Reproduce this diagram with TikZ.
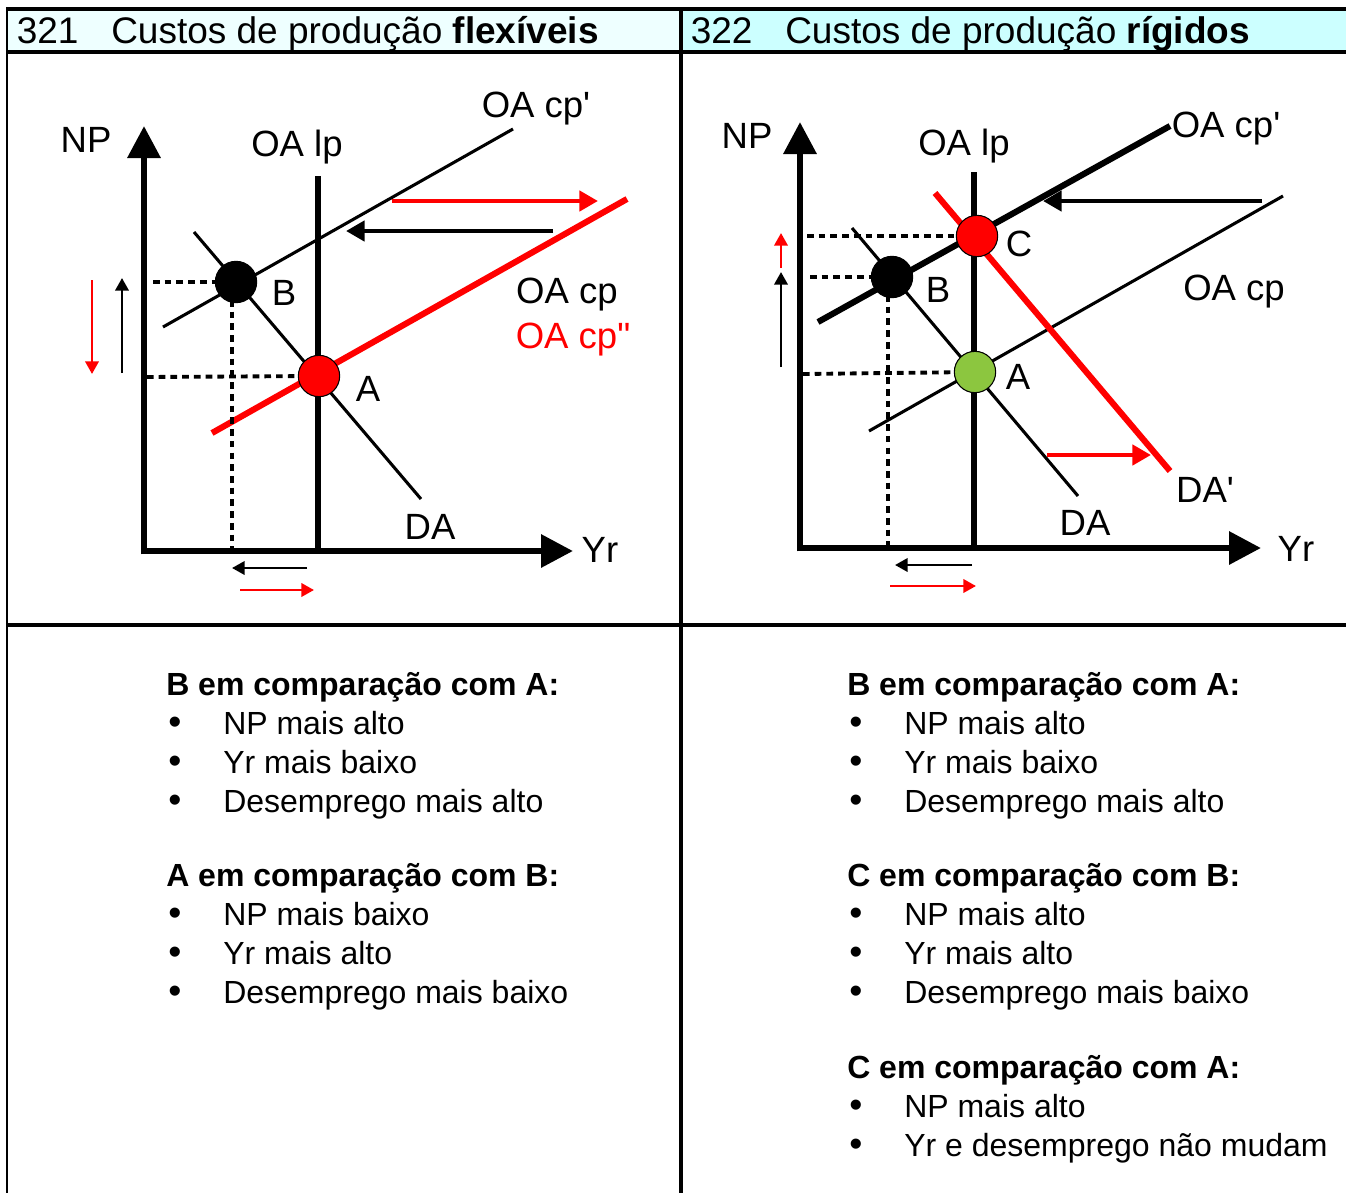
\documentclass[tikz,border=0pt]{standalone}
\usepackage{fontspec}
\setmainfont{Liberation Sans}[Ligatures=TeXOff]
\usetikzlibrary{arrows.meta}
\definecolor{hdrL}{HTML}{EEFFFF}
\definecolor{hdrR}{HTML}{CCFFFF}
\definecolor{ptgreen}{HTML}{8CC63F}
\begin{document}
\begin{tikzpicture}[x=0.75pt,y=-0.75pt,
  axisline/.style={line width=4.8pt,-{Triangle[length=24pt,width=24pt]}},
  thinline/.style={line width=2.3pt},
  thickline/.style={line width=4.6pt},
  dotline/.style={line width=2.9pt,dash pattern=on 5pt off 3.8pt},
  shiftarrow/.style={line width=3.6pt,-{Triangle[length=14pt,width=15pt]}},
  smallarrow/.style={line width=2pt,-{Triangle[length=9.5pt,width=10pt]}},
  pt/.style={circle,draw=black,line width=0.8pt,minimum size=31pt,inner sep=0pt},
  lbl/.style={font=\fontsize{27.4}{32}\selectfont,anchor=base,inner sep=0pt},
  hdr/.style={font=\fontsize{27.75}{32}\selectfont,anchor=base west,inner sep=0pt},
  body/.style={font=\fontsize{24}{28}\selectfont,anchor=base west,inner sep=0pt},
  bul/.style={font=\fontsize{28}{32}\selectfont,anchor=base,inner sep=0pt}]
\useasboundingbox (0,0) rectangle (1346,1193);
% header fills
\fill[hdrL] (7,9) rectangle (681,52);
\fill[hdrR] (681,9) rectangle (1346,52);
% table rules
\draw[line width=2.3pt] (6,9) -- (1346,9);
\draw[line width=1.8pt] (7,8) -- (7,1193);
\draw[line width=3pt] (7,52) -- (1346,52);
\draw[line width=3pt] (681,8) -- (681,1193);
\draw[line width=3pt] (7,625) -- (1346,625);
% headers
\node[hdr] (h1n) at (16.5,43) {321};
\node[hdr] (h1t) at (111,43) {Custos de produção \textbf{flexíveis}};
\node[hdr] (h2n) at (690.5,43) {322};
\node[hdr] (h2t) at (785,43) {Custos de produção \textbf{rígidos}};

% ================= LEFT CHART =================
\draw[axisline] (144,554.4) -- (144,126);
\draw[axisline] (141.6,551) -- (573,551);
\draw[thickline] (318,176) -- (318,551);
\draw[thinline] (163,327) -- (513,129);
\draw[thickline,red] (212,433) -- (627,199);
\draw[thinline] (194,232) -- (421,499);
\node[pt,fill=black] (LB) at (236,282) {};
\node[pt,fill=red] (LA) at (319,376) {};
\coordinate (LBh) at (153,282);
\coordinate (LAh) at (147,377);
\coordinate (LBv) at (232,548);
\draw[dotline] (LBh) -- (LB);
\draw[dotline] (LAh) -- (LA);
\draw[dotline] (232,300) -- (LBv);
\coordinate (Lk1) at (553,231);
\coordinate (Lk2) at (346,231);
\draw[shiftarrow] (Lk1) -- (Lk2);
\coordinate (Lr1) at (392,201);
\coordinate (Lr2) at (598,201);
\draw[shiftarrow,red] (Lr1) -- (Lr2);
\draw[smallarrow,red] (92,280) -- (92,374);
\draw[smallarrow] (122,373) -- (122,278);
\draw[smallarrow] (307,568) -- (232,568);
\draw[smallarrow,red] (240,590) -- (314,590);
\node[lbl] (LNP) at (86,152) {NP};
\node[lbl] (LOAlp) at (297,156) {OA lp};
\node[lbl] (LOAcpp) at (536,117) {OA cp'};
\node[lbl] (LOAcp) at (567,303) {OA cp};
\node[lbl,red] (LOAcppp) at (573,348) {OA cp"};
\node[lbl] (LBl) at (284,305) {B};
\node[lbl] (LAl) at (368,401) {A};
\node[lbl] (LDA) at (430,539) {DA};
\node[lbl] (LYr) at (600,562) {Yr};

% ================= RIGHT CHART =================
\draw[axisline] (800,551.4) -- (800,122);
\draw[axisline] (797.6,548) -- (1261,548);
\draw[thickline] (974,172) -- (974,548);
\draw[thickline] (818,322) -- (1170,126);
\draw[thinline] (869,431) -- (1283,196);
\draw[thinline] (852,228) -- (1078,496);
\draw[thickline,red] (935,193) -- (1170,471);
\node[pt,fill=red] (RC) at (977,236) {};
\node[pt,fill=black] (RB) at (892,277) {};
\node[pt,fill=ptgreen] (RA) at (975,372) {};
\coordinate (RCh) at (807,236);
\coordinate (RBh) at (810,277);
\coordinate (RAh) at (803,374);
\coordinate (RBv) at (888,545);
\draw[dotline] (RCh) -- (RC);
\draw[dotline] (RBh) -- (RB);
\draw[dotline] (RAh) -- (RA);
\draw[dotline] (888,295) -- (RBv);
\coordinate (Rk1) at (1262,201);
\coordinate (Rk2) at (1043,201);
\draw[shiftarrow] (Rk1) -- (Rk2);
\coordinate (Rr1) at (1047,455);
\coordinate (Rr2) at (1151,455);
\draw[shiftarrow,red] (Rr1) -- (Rr2);
\draw[smallarrow,red] (781,268) -- (781,233);
\draw[smallarrow] (781,367) -- (781,272);
\draw[smallarrow] (972,565) -- (895,565);
\draw[smallarrow,red] (890,586) -- (976,586);
\node[lbl] (RNP) at (747,148) {NP};
\node[lbl] (ROAlp) at (964,155) {OA lp};
\node[lbl] (ROAcpp) at (1226,137) {OA cp'};
\node[lbl] (ROAcp) at (1234,300) {OA cp};
\node[lbl] (RCl) at (1019,256) {C};
\node[lbl] (RBl) at (938,302) {B};
\node[lbl] (RAl) at (1018,389) {A};
\node[lbl] (RDAp) at (1205,502) {DA'};
\node[lbl] (RDA) at (1085,535) {DA};
\node[lbl] (RYr) at (1296,561) {Yr};

% ================= LEFT TEXT =================
\node[body] (lt1) at (166,695) {\textbf{B em comparação com A:}};
\node[bul] (lb1) at (175,734) {•}; \node[body] (li1) at (223,734) {NP mais alto};
\node[bul] (lb2) at (175,773) {•}; \node[body] (li2) at (223,773) {Yr mais baixo};
\node[bul] (lb3) at (175,812) {•}; \node[body] (li3) at (223,812) {Desemprego mais alto};
\node[body] (lt2) at (166,886) {\textbf{A em comparação com B:}};
\node[bul] (lb4) at (175,925) {•}; \node[body] (li4) at (223,925) {NP mais baixo};
\node[bul] (lb5) at (175,964) {•}; \node[body] (li5) at (223,964) {Yr mais alto};
\node[bul] (lb6) at (175,1003) {•}; \node[body] (li6) at (223,1003) {Desemprego mais baixo};

% ================= RIGHT TEXT =================
\node[body] (rt1) at (847,695) {\textbf{B em comparação com A:}};
\node[bul] (rb1) at (856,734) {•}; \node[body] (ri1) at (904,734) {NP mais alto};
\node[bul] (rb2) at (856,773) {•}; \node[body] (ri2) at (904,773) {Yr mais baixo};
\node[bul] (rb3) at (856,812) {•}; \node[body] (ri3) at (904,812) {Desemprego mais alto};
\node[body] (rt2) at (847,886) {\textbf{C em comparação com B:}};
\node[bul] (rb4) at (856,925) {•}; \node[body] (ri4) at (904,925) {NP mais alto};
\node[bul] (rb5) at (856,964) {•}; \node[body] (ri5) at (904,964) {Yr mais alto};
\node[bul] (rb6) at (856,1003) {•}; \node[body] (ri6) at (904,1003) {Desemprego mais baixo};
\node[body] (rt3) at (847,1078) {\textbf{C em comparação com A:}};
\node[bul] (rb7) at (856,1117) {•}; \node[body] (ri7) at (904,1117) {NP mais alto};
\node[bul] (rb8) at (856,1156) {•}; \node[body] (ri8) at (904,1156) {Yr e desemprego não mudam};
\end{tikzpicture}
\end{document}
